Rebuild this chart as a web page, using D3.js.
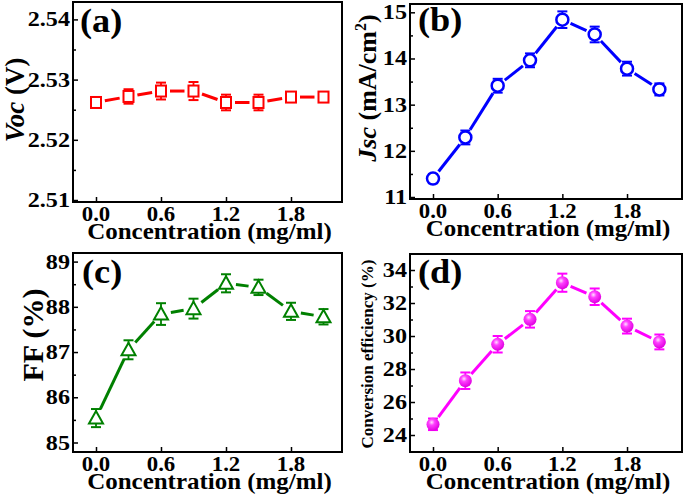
<!DOCTYPE html>
<html><head><meta charset="utf-8">
<script src="https://cdn.jsdelivr.net/npm/d3@7"></script>
<style>
body{margin:0;background:#fff}
svg{display:block}
text{font-family:"Liberation Serif","Times New Roman",serif;font-weight:bold;fill:#000}
</style>
</head><body><svg id="chart" width="685" height="501"></svg>
<script>
// ---- data ----
const concentration = [0, 0.3, 0.6, 0.9, 1.2, 1.5, 1.8, 2.1];
const xTicks = [0, 0.6, 1.2, 1.8];
const xTickLabels = ["0.0", "0.6", "1.2", "1.8"];

const vocValues = [2.5262, 2.5272, 2.5281, 2.5281, 2.5262, 2.5262, 2.5271, 2.5271];
const vocErrors = [0.0008, 0.0012, 0.0014, 0.0015, 0.0013, 0.0013, 0.0007, 0.0007];
const vocTicks = [2.51, 2.52, 2.53, 2.54];
const vocMinor = [2.515, 2.525, 2.535];

const jscValues = [11.40, 12.29, 13.41, 13.96, 14.84, 14.52, 13.78, 13.33];
const jscErrors = [0.10, 0.15, 0.15, 0.15, 0.18, 0.17, 0.15, 0.13];
const jscTicks = [11, 12, 13, 14, 15];
const jscMinor = [11.5, 12.5, 13.5, 14.5];

const ffValues = [85.54, 87.05, 87.84, 87.96, 88.52, 88.43, 87.90, 87.78];
const ffErrors = [0.20, 0.21, 0.24, 0.22, 0.20, 0.17, 0.19, 0.17];
const ffTicks = [85, 86, 87, 88, 89];
const ffMinor = [85.5, 86.5, 87.5, 88.5];

const effValues = [24.65, 27.29, 29.50, 31.01, 33.23, 32.38, 30.60, 29.64];
const effErrors = [0.35, 0.50, 0.50, 0.50, 0.55, 0.50, 0.45, 0.45];
const effTicks = [24, 26, 28, 30, 32, 34];
const effMinor = [25, 27, 29, 31, 33];

// ---- drawing ----
const svg = d3.select("#chart");
const defs = svg.append("defs");
const grad = defs.append("radialGradient").attr("id", "sphere")
  .attr("cx", "40%").attr("cy", "35%").attr("r", "65%");
grad.append("stop").attr("offset", "0%").attr("stop-color", "#ffe0ff");
grad.append("stop").attr("offset", "35%").attr("stop-color", "#ff40ff");
grad.append("stop").attr("offset", "100%").attr("stop-color", "#e000e0");

function stretchText(g, x, y, str, size, anchor, sx) {
  return g.append("text")
    .attr("transform", `translate(${x},${y}) scale(${sx},1)`)
    .attr("text-anchor", anchor)
    .attr("font-size", size)
    .text(str);
}

function panel(cfg) {
  const {box, xDom, yDom, values, errors, yTicks, yMinor, yFmt, color, marker, label} = cfg;
  const g = svg.append("g");
  const x = d3.scaleLinear().domain(xDom).range([box.l, box.r]);
  const y = d3.scaleLinear().domain(yDom).range([box.b, box.t]);

  // ticks (inward)
  const axL = g.append("g").attr("transform", `translate(${box.l},0)`)
    .call(d3.axisLeft(y).tickValues(yTicks).tickSize(-5).tickFormat(""));
  const axLm = g.append("g").attr("transform", `translate(${box.l},0)`)
    .call(d3.axisLeft(y).tickValues(yMinor).tickSize(-3).tickFormat(""));
  const axB = g.append("g").attr("transform", `translate(0,${box.b})`)
    .call(d3.axisBottom(x).tickValues(xTicks).tickSize(-5).tickFormat(""));
  [axL, axLm, axB].forEach(a => {
    a.select(".domain").remove();
    a.selectAll("line").attr("stroke", "#000").attr("stroke-width", 1.5);
  });

  // frame
  g.append("rect").attr("x", box.l).attr("y", box.t)
    .attr("width", box.r - box.l).attr("height", box.b - box.t)
    .attr("fill", "none").attr("stroke", "#000").attr("stroke-width", 2);

  // tick labels
  yTicks.forEach(t => stretchText(g, box.l - 3, y(t) + 7, yFmt(t), 21, "end", 1.15));
  xTicks.forEach((t, i) => stretchText(g, x(t), box.b + 19, xTickLabels[i], 20, "middle", 1.14));

  // x title
  stretchText(g, (box.l + box.r) / 2 + 2, box.b + 37, "Concentration (mg/ml)", 24, "middle", 1.04);

  // panel label
  stretchText(g, label.x, label.y, label.text, 33, "start", 1.1);

  // lines with gaps near markers
  const gap = cfg.gap;
  for (let i = 0; i < concentration.length - 1; i++) {
    const x1 = x(concentration[i]), y1 = y(values[i]);
    const x2 = x(concentration[i + 1]), y2 = y(values[i + 1]);
    const dx = x2 - x1, dy = y2 - y1, L = Math.hypot(dx, dy);
    const ux = dx / L, uy = dy / L;
    g.append("line")
      .attr("x1", x1 + ux * gap).attr("y1", y1 + uy * gap)
      .attr("x2", x2 - ux * gap).attr("y2", y2 - uy * gap)
      .attr("stroke", color).attr("stroke-width", 3);
  }

  // error bars
  concentration.forEach((c, i) => {
    const cx = x(c), yl = y(values[i] - errors[i]), yh = y(values[i] + errors[i]);
    g.append("line").attr("x1", cx).attr("x2", cx).attr("y1", yl).attr("y2", yh)
      .attr("stroke", color).attr("stroke-width", 1.8);
    [yl, yh].forEach(yy => g.append("line").attr("x1", cx - 5).attr("x2", cx + 5)
      .attr("y1", yy).attr("y2", yy).attr("stroke", color).attr("stroke-width", 2));
  });

  // markers
  concentration.forEach((c, i) => {
    const cx = x(c), cy = y(values[i]);
    if (marker === "square") {
      g.append("rect").attr("x", cx - 5).attr("y", cy - 5.5).attr("width", 10).attr("height", 11)
        .attr("fill", "#fff").attr("stroke", color).attr("stroke-width", 2);
    } else if (marker === "circle") {
      g.append("circle").attr("cx", cx).attr("cy", cy).attr("r", 6)
        .attr("fill", "#fff").attr("stroke", color).attr("stroke-width", 2.5);
    } else if (marker === "triangle") {
      g.append("path").attr("d", `M${cx},${cy - 7}L${cx + 7},${cy + 5.5}L${cx - 7},${cy + 5.5}Z`)
        .attr("fill", "#fff").attr("stroke", color).attr("stroke-width", 2);
    } else {
      g.append("circle").attr("cx", cx).attr("cy", cy).attr("r", 6.5)
        .attr("fill", "url(#sphere)");
    }
  });
  return {g, x, y};
}

// (a)
const pa = panel({
  box: {l: 73, r: 342, t: 2, b: 202}, xDom: [-0.2123, 2.2708], yDom: [2.50967, 2.54289],
  values: vocValues, errors: vocErrors, yTicks: vocTicks, yMinor: vocMinor,
  yFmt: d3.format(".2f"), color: "#ff0000", marker: "square", gap: 9,
  label: {x: 80, y: 32, text: "(a)"}
});
{
  const t = pa.g.append("text").attr("transform", "translate(24,100) rotate(-90)")
    .attr("text-anchor", "middle").attr("font-size", 27);
  t.append("tspan").attr("font-style", "italic").text("Voc");
  t.append("tspan").text(" (V)");
}

// (b)
const pb = panel({
  box: {l: 410, r: 682, t: 4, b: 199}, xDom: [-0.2134, 2.310], yDom: [10.957, 15.18],
  values: jscValues, errors: jscErrors, yTicks: jscTicks, yMinor: jscMinor,
  yFmt: d3.format("d"), color: "#0000ff", marker: "circle", gap: 9,
  label: {x: 418, y: 31, text: "(b)"}
});
{
  const t = pb.g.append("text").attr("transform", "translate(376,88) rotate(-90)")
    .attr("text-anchor", "middle").attr("font-size", 26);
  t.append("tspan").attr("font-style", "italic").text("Jsc");
  t.append("tspan").text(" (mA/cm");
  t.append("tspan").attr("font-size", 16).attr("dy", -10).text("2");
  t.append("tspan").attr("dy", 10).text(")");
}

// (c)
const pc = panel({
  box: {l: 73, r: 342, t: 253, b: 452}, xDom: [-0.2123, 2.2708], yDom: [84.79, 89.19],
  values: ffValues, errors: ffErrors, yTicks: ffTicks, yMinor: ffMinor,
  yFmt: d3.format("d"), color: "#008000", marker: "triangle", gap: 10,
  label: {x: 82, y: 283, text: "(c)"}
});
pc.g.append("text").attr("transform", "translate(43,335) rotate(-90)")
  .attr("text-anchor", "middle").attr("font-size", 30).text("FF (%)");

// (d)
const pd = panel({
  box: {l: 410, r: 682, t: 254, b: 452}, xDom: [-0.2134, 2.310], yDom: [22.97, 34.97],
  values: effValues, errors: effErrors, yTicks: effTicks, yMinor: effMinor,
  yFmt: d3.format("d"), color: "#ff00ff", marker: "sphere", gap: 9,
  label: {x: 418, y: 283, text: "(d)"}
});
pd.g.append("text").attr("transform", "translate(373,354) rotate(-90)")
  .attr("text-anchor", "middle").attr("font-size", 17).text("Conversion efficiency (%)");
</script>
</body></html>
